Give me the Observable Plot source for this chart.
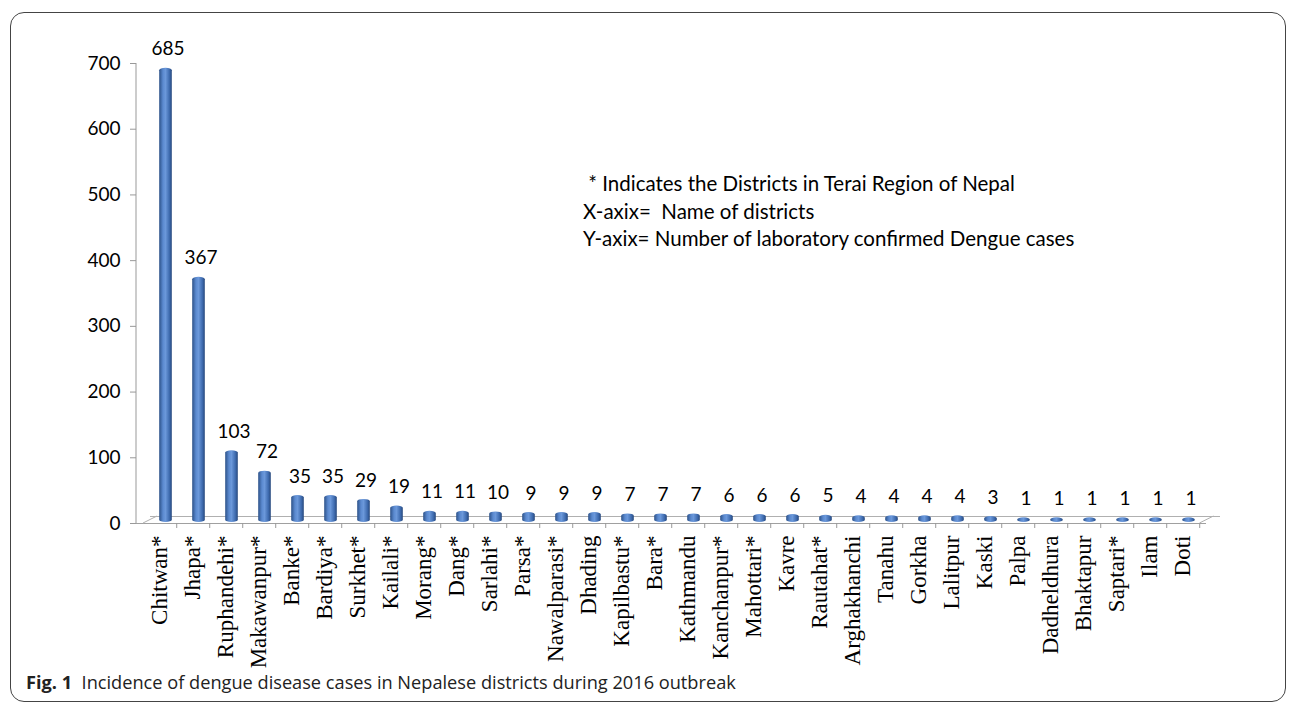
<!DOCTYPE html>
<html>
<head>
<meta charset="utf-8">
<script src="https://cdn.jsdelivr.net/npm/d3@7"></script>
<script src="https://cdn.jsdelivr.net/npm/@observablehq/plot@0.6"></script>
<style>
  html, body { margin: 0; padding: 0; background: #fff; }
  body { width: 1296px; height: 705px; position: relative; overflow: hidden; }
  #frame { position: absolute; left: 10px; top: 12px; width: 1276px; height: 690px;
           border: 1px solid #444; border-radius: 14px; box-sizing: border-box; }
  #chart { position: absolute; left: 0; top: 0; }
  #note { position: absolute; left: 583px; top: 170px; font-family: Lato, "Open Sans", sans-serif;
          font-size: 20.5px; line-height: 27.5px; color: #000; white-space: pre; }
  #caption { position: absolute; left: 26px; top: 670px; font-family: "Open Sans", sans-serif;
             font-size: 18.2px; line-height: 25px; color: #222; white-space: pre; }
  #caption b { font-weight: 700; }
</style>
</head>
<body>
<div id="frame"></div>
<div id="chart"></div>
<div id="note"> * Indicates the Districts in Terai Region of Nepal
X-axix=  Name of districts
Y-axix= Number of laboratory confirmed Dengue cases</div>
<div id="caption"><b>Fig. 1</b>  Incidence of dengue disease cases in Nepalese districts during 2016 outbreak</div>
<script>
const districts = ["Chitwan*", "Jhapa*", "Ruphandehi*", "Makawanpur*", "Banke*", "Bardiya*", "Surkhet*",
  "Kailali*", "Morang*", "Dang*", "Sarlahi*", "Parsa*", "Nawalparasi*", "Dhading", "Kapilbastu*", "Bara*",
  "Kathmandu", "Kanchanpur*", "Mahottari*", "Kavre", "Rautahat*", "Arghakhanchi", "Tanahu", "Gorkha",
  "Lalitpur", "Kaski", "Palpa", "Dadheldhura", "Bhaktapur", "Saptari*", "Ilam", "Doti"];
const cases = [685, 367, 103, 72, 35, 35, 29, 19, 11, 11, 10, 9, 9, 9, 7, 7, 7, 6, 6, 6, 5, 4, 4, 4, 4, 3, 1, 1, 1, 1, 1, 1];
const yTicks = [0, 100, 200, 300, 400, 500, 600, 700];

const data = districts.map((d, i) => ({district: districts[i], cases: cases[i]}));

const W = 1296, H = 670, mL = 136, mR = 90, mT = 63, mB = 147;
const band = (W - mL - mR) / districts.length;
const depthX = 6, depthY = -3;

const plot = Plot.plot({
  width: W, height: H,
  marginLeft: mL, marginRight: mR, marginTop: mT, marginBottom: mB,
  style: {fontFamily: "Lato, 'Open Sans', sans-serif", fontSize: "19px", color: "#000", background: "transparent"},
  x: {domain: districts, padding: 0, axis: null},
  y: {domain: [0, 700], axis: null},
  marks: [
    // floor (pseudo-3D)
    Plot.ruleY([0], {stroke: "#b0b0b0", strokeWidth: 1, dx: 14, dy: -7}),
    Plot.ruleY([0], {stroke: "#a0a0a0", strokeWidth: 1}),
    // y axis ticks + labels
    Plot.axisY({ticks: yTicks, tickSize: 6, tickPadding: 10, stroke: "#999", fill: "#000", fontSize: 19, label: null}),
    // x axis: boundary ticks
    Plot.axisX({tickSize: 5, stroke: "#999", tickFormat: () => "", dx: band / 2, label: null}),
    // x axis: labels
    Plot.axisX({tickSize: 0, tickPadding: 12, tickRotate: -90, fontFamily: "'Liberation Serif', 'Times New Roman', serif",
                fontSize: 23, fill: "#000", label: null}),
    // bars
    Plot.barY(data, {x: "district", y: "cases", fill: "url(#cyl)", insetLeft: 10.2, insetRight: 10.2,
                     insetTop: -2, insetBottom: -2,
                     dx: depthX, dy: depthY, rx: 6.5, ry: 2.3}),
    // value labels
    Plot.text(data, {x: "district", y: "cases", text: d => String(d.cases), dx: depthX + 2, dy: depthY - 21,
                     fontSize: 19, fill: "#000"})
  ]
});

// gradient for cylinder-looking bars
const defs = d3.select(plot).insert("defs", ":first-child");
const g = defs.append("linearGradient").attr("id", "cyl").attr("x1", 0).attr("x2", 1).attr("y1", 0).attr("y2", 0);
[[0, "#2c5188"], [0.3, "#5b8ad0"], [0.5, "#6b98da"], [0.8, "#3f6cb0"], [1, "#27487c"]]
  .forEach(([o, c]) => g.append("stop").attr("offset", o).attr("stop-color", c));

// y axis line and floor side edges derived from scales
const ys = plot.scale("y"), xs = plot.scale("x");
const y0 = ys.apply(0), yTop = ys.apply(700);
const xLeft = xs.apply(districts[0]), xRight = xs.apply(districts[districts.length - 1]) + band;
const sel = d3.select(plot);
sel.append("line").attr("x1", mL).attr("x2", mL).attr("y1", yTop).attr("y2", y0).attr("stroke", "#999");
sel.append("line").attr("x1", xLeft).attr("x2", xLeft + 14).attr("y1", y0).attr("y2", y0 - 7).attr("stroke", "#b0b0b0");
sel.append("line").attr("x1", xRight).attr("x2", xRight + 14).attr("y1", y0).attr("y2", y0 - 7).attr("stroke", "#b0b0b0");

document.getElementById("chart").appendChild(plot);
</script>
</body>
</html>
